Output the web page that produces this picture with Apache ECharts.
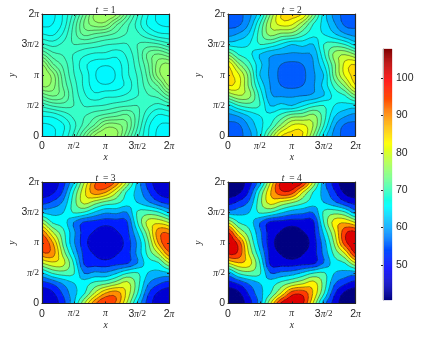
<!DOCTYPE html>
<html><head><meta charset="utf-8">
<style>html,body{margin:0;padding:0;background:#fff}#c{width:423px;height:349px}</style>
<script src="https://cdn.jsdelivr.net/npm/echarts@6/dist/echarts.min.js"></script>
</head><body><div id="c"></div>
<script>
// Values on a 12x12 periodic lattice, step pi/6; first row is y=0, first column x=0.
const t1Values=[
[65.3,65.8,67.3,69.7,73,76.3,77,76.3,73,69.7,67.3,65.8],
[65.8,66.1,67,69,71,73,75.5,75.5,74,70.7,67.5,66.1],
[67.3,67.5,68.5,69.7,70.4,71.3,72,72.5,73,71,68.5,67],
[69.7,70.7,71,70.5,69.3,69.3,69.5,70,70.3,70.5,69.7,69],
[73,74,73,70.3,68.5,67.5,68,68,68.5,69.3,70.4,71],
[76.3,75.5,72.5,70,68,66.6,66.2,66.6,67.5,69.3,71.3,73],
[77,75.5,72,69.5,68,66.2,65.3,66.2,68,69.5,72,75.5],
[76.3,73,71.3,69.3,67.5,66.6,66.2,66.6,68,70,72.5,75.5],
[73,71,70.4,69.3,68.5,68,68,67.5,68.5,70.3,73,74],
[69.7,69,69.7,70.5,70.3,70,69.5,69.3,69.3,70.5,71,70.7],
[67.3,67,68.5,71,73,72.5,72,71.3,70.4,69.7,68.5,67.5],
[65.8,66.1,67.5,70.7,74,75.5,75.5,73,71,69,67,66.1]];
const t2Values=[
[55.5,57,60,66,76,85,86,85,76,66,60,57],
[57,57.4,61.5,66,70,77,82.5,83,79,70,61.5,57.4],
[60,61.5,64.5,67,68,71,74.5,75,77,71.5,64.5,61.5],
[66,70,71.5,70,63.8,65,64,66.5,69,70,67,66],
[76,79,77,69,61.5,60.5,60.5,60.8,61.5,63.8,68,70],
[85,83,75,66.5,60.8,57.9,57,57.9,60.5,65,71,77],
[86,82.5,74.5,64,60.5,57,55,57,60.5,64,74.5,82.5],
[85,77,71,65,60.5,57.9,57,57.9,60.8,66.5,75,83],
[76,70,68,63.8,61.5,60.8,60.5,60.5,61.5,69,77,79],
[66,66,67,70,69,66.5,64,65,63.8,70,71.5,70],
[60,61.5,64.5,71.5,77,75,74.5,71,68,67,64.5,61.5],
[57,57.4,61.5,70,79,83,82.5,77,70,66,61.5,57.4]];
const t3Values=[
[46,48,54,65,80,94,100,94,80,65,54,48],
[48,50,56.7,64,70,81,90.5,93,84,71,56.7,50],
[54,56.7,61.5,65.5,68,72,74,78,82,73,61.5,56.7],
[65,71,73,71,60.5,62,61.5,65,70,71,65.5,64],
[80,84,82,70,55,53.5,53,54,55,60.5,68,70],
[94,93,78,65,54,50.3,47.5,50.3,53.5,62,72,81],
[100,90.5,74,61.5,53,47.5,46,47.5,53,61.5,74,90.5],
[94,81,72,62,53.5,50.3,47.5,50.3,54,65,78,93],
[80,70,68,60.5,55,54,53,53.5,55,70,82,84],
[65,64,65.5,71,70,65,61.5,62,60.5,71,73,71],
[54,56.7,61.5,73,82,78,74,72,68,65.5,61.5,56.7],
[48,50,56.7,71,84,93,90.5,81,70,64,56.7,50]];
const t4Values=[
[41,43,50.5,62,83,103,107,103,83,62,50.5,43],
[43,45.5,54,63,71,84,99,100,89,72,54,45.5],
[50.5,54,60,65,68,73,78,82,86,75,60,54],
[62,72,75,72,59,60.5,62,66,71,72,65,63],
[83,89,86,71,51.3,50,49.5,50.5,51.3,59,68,71],
[103,100,82,66,50.5,46.2,43.5,46.2,50,60.5,73,84],
[107,99,78,62,49.5,43.5,41,43.5,49.5,62,78,99],
[103,84,73,60.5,50,46.2,43.5,46.2,50.5,66,82,100],
[83,71,68,59,51.3,50.5,49.5,50,51.3,71,86,89],
[62,63,65,72,71,66,62,60.5,59,72,75,72],
[50.5,54,60,75,86,82,78,73,68,65,60,54],
[43,45.5,54,72,89,100,99,84,71,63,54,45.5]];
const t1Levels=[65.3,66.1,67.2,68.3,69.4,70.5,71.6,72.7,73.8,74.9,76];
const t2Levels=[55,58,61,64,67,70,73,76,79,82,85];
const t3Levels=[46,50.9,55.8,60.7,65.6,70.5,75.4,80.3,85.2,90.1,95];
const t4Levels=[40.6,46.7,52.8,58.9,65,71.1,77.2,83.3,89.4,95.5,101.6];
const panelTitles=['1','2','3','4'];
const axisTickLabels=['0','π/2','π','3π/2','2π'];
const colorbarTicks=[50,60,70,80,90,100];
const colorMin=40.6,colorMax=107.8;
const jetStops=[[0,[0,0,128]],[0.125,[0,0,255]],[0.375,[0,255,255]],[0.625,[255,255,0]],[0.875,[255,0,0]],[1,[128,0,0]]];

function jet(v){
  const t=Math.max(0,Math.min(1,(v-colorMin)/(colorMax-colorMin)));
  for(let i=1;i<jetStops.length;i++){
    if(t<=jetStops[i][0]){
      const a=jetStops[i-1],b=jetStops[i],f=(t-a[0])/(b[0]-a[0]);
      return 'rgb('+a[1].map((c,k)=>Math.round(c+(b[1][k]-c)*f)).join(',')+')';
    }
  }
  return 'rgb(128,0,0)';
}
const N=12,S=3;
function cr(a,b,c,d,t){return 0.5*(2*b+(c-a)*t+(2*a-5*b+4*c-d)*t*t+(3*b-a-3*c+d)*t*t*t);}
function lattice(vals){
  const at=(i,j)=>vals[((j%N)+N)%N][((i%N)+N)%N];
  const out=[];
  for(let b=0;b<=N*S;b++){
    const row=[],j=Math.floor(b/S),fy=b/S-j;
    for(let a=0;a<=N*S;a++){
      const i=Math.floor(a/S),fx=a/S-i,c=[];
      for(let m=-1;m<=2;m++)c.push(cr(at(i-1,j+m),at(i,j+m),at(i+1,j+m),at(i+2,j+m),fx));
      row.push(cr(c[0],c[1],c[2],c[3],fy));
    }
    out.push(row);
  }
  return out;
}
function clip(poly,L,keepAbove){
  const out=[];
  for(let i=0;i<poly.length;i++){
    const p=poly[i],q=poly[(i+1)%poly.length];
    const pin=keepAbove?p[2]>=L:p[2]<=L,qin=keepAbove?q[2]>=L:q[2]<=L;
    if(pin)out.push(p);
    if(pin!==qin){const f=(L-p[2])/(q[2]-p[2]);out.push([p[0]+(q[0]-p[0])*f,p[1]+(q[1]-p[1])*f,L]);}
  }
  return out;
}
function subCells(lat,i,j,api){
  const cells=[];
  for(let b=0;b<S;b++)for(let a=0;a<S;a++){
    const A=i*S+a,B=j*S+b,pt=(x,y,v)=>{const c=api.coord([x/S,y/S]);return [c[0],c[1],v];};
    const v00=lat[B][A],v10=lat[B][A+1],v01=lat[B+1][A],v11=lat[B+1][A+1],vc=(v00+v10+v01+v11)/4;
    const p00=pt(A,B,v00),p10=pt(A+1,B,v10),p11=pt(A+1,B+1,v11),p01=pt(A,B+1,v01),pc=pt(A+.5,B+.5,vc);
    cells.push({quad:[p00,p10,p11,p01],tris:[[p00,p10,pc],[p10,p11,pc],[p11,p01,pc],[p01,p00,pc]]});
  }
  return cells;
}
function bandOf(v,levels){let k=0;while(k<levels.length-1&&v>=levels[k+1])k++;return k;}
function fillRenderer(lat,levels){
  return function(params,api){
    const children=[],i=api.value(0),j=api.value(1);
    subCells(lat,i,j,api).forEach(cell=>{
      const bands=cell.quad.map(p=>bandOf(p[2],levels));
      if(bands.every(x=>x===bands[0])){
        const c=jet(levels[bands[0]]);
        children.push({type:'polygon',shape:{points:cell.quad.map(p=>[p[0],p[1]])},style:{fill:c,stroke:c,lineWidth:1.2}});
        return;
      }
      cell.tris.forEach(tri=>{
        levels.forEach((L,k)=>{
          let poly=tri;
          if(k>0)poly=clip(poly,L,true);
          if(poly.length&&k<levels.length-1)poly=clip(poly,levels[k+1],false);
          if(poly.length>=3){
            const c=jet(L);
            children.push({type:'polygon',shape:{points:poly.map(p=>[p[0],p[1]])},style:{fill:c,stroke:c,lineWidth:0.9}});
          }
        });
      });
    });
    return {type:'group',children};
  };
}
function lineRenderer(lat,levels){
  return function(params,api){
    const children=[],i=api.value(0),j=api.value(1);
    subCells(lat,i,j,api).forEach(cell=>cell.tris.forEach(tri=>{
      levels.slice(1).forEach(L=>{
        const pts=[];
        for(let e=0;e<3;e++){
          const p=tri[e],q=tri[(e+1)%3];
          if((p[2]<L)!==(q[2]<L)){const f=(L-p[2])/(q[2]-p[2]);pts.push([p[0]+(q[0]-p[0])*f,p[1]+(q[1]-p[1])*f]);}
        }
        if(pts.length===2)children.push({type:'line',shape:{x1:pts[0][0],y1:pts[0][1],x2:pts[1][0],y2:pts[1][1]},style:{stroke:'rgba(20,20,20,0.62)',lineWidth:0.7,fill:null}});
      });
    }));
    return {type:'group',children};
  };
}
const fieldValues=[t1Values,t2Values,t3Values,t4Values];
const fieldLevels=[t1Levels,t2Levels,t3Levels,t4Levels];
const gridBoxes=[[42,14,127,122],[228,14,127.5,122],[42,182,127,121.5],[228,182,127.5,121.5]];
const textColor='#262626';
const tickRich={n:{fontFamily:'Liberation Sans',fontSize:10.5,color:textColor},p:{fontFamily:'Liberation Serif',fontStyle:'italic',fontSize:9.5,color:textColor},m:{fontFamily:'Liberation Serif',fontSize:9,color:textColor}};
function tickFmt(v){
  const s=axisTickLabels[v/3];
  if(s===undefined)return '';
  const m=s.match(/^(\d?)(π?)(\/2)?$/);
  return (m[1]?'{n|'+m[1]+'}':'')+(m[2]?'{p|π}':'')+(m[3]?'{m|/2}':'');
}
const grids=[],xAxes=[],yAxes=[],series=[],titles=[];
gridBoxes.forEach((b,k)=>{
  grids.push({left:b[0],top:b[1],width:b[2],height:b[3]});
  const base={type:'value',min:0,max:12,interval:3,gridIndex:k,z:10,splitLine:{show:false},
    axisLine:{show:true,onZero:false,lineStyle:{color:textColor,width:1.2}},
    axisTick:{show:true,inside:true,length:2,lineStyle:{color:textColor,width:1}}};
  const ax=xAxes.length;
  xAxes.push(Object.assign({},base,{position:'bottom',name:'x',nameLocation:'middle',nameGap:15,
    nameTextStyle:{fontFamily:'Liberation Serif',fontStyle:'italic',fontSize:9.5,color:textColor},
    axisLabel:{formatter:tickFmt,rich:tickRich,margin:5,showMinLabel:true,showMaxLabel:true}}));
  xAxes.push(Object.assign({},base,{position:'top',axisLabel:{show:false}}));
  yAxes.push(Object.assign({},base,{position:'left',name:'y',nameLocation:'middle',nameGap:22,nameRotate:90,
    nameTextStyle:{fontFamily:'Liberation Serif',fontStyle:'italic',fontSize:9.5,color:textColor},
    axisLabel:{formatter:tickFmt,rich:tickRich,margin:3,showMinLabel:true,showMaxLabel:true}}));
  yAxes.push(Object.assign({},base,{position:'right',axisLabel:{show:false}}));
  const cells=[];
  for(let j=0;j<N;j++)for(let i=0;i<N;i++)cells.push([i,j,fieldValues[k][j][i]]);
  const lat=lattice(fieldValues[k]);
  const common={type:'custom',xAxisIndex:ax,yAxisIndex:ax,data:cells,clip:true,silent:true,animation:false,encode:{x:0,y:1}};
  series.push(Object.assign({},common,{z:2,renderItem:fillRenderer(lat,fieldLevels[k])}));
  series.push(Object.assign({},common,{z:3,renderItem:lineRenderer(lat,fieldLevels[k])}));
  titles.push({text:'{i|t} {e|= '+panelTitles[k]+'}',left:b[0]+b[2]/2,top:b[1]-13,padding:0,textAlign:'center',
    textStyle:{fontWeight:'normal',rich:{i:{fontFamily:'Liberation Serif',fontStyle:'italic',fontWeight:'normal',fontSize:9.5,color:textColor},e:{fontFamily:'Liberation Serif',fontWeight:'normal',fontSize:9.5,color:textColor}}}});
});
// colour bar
const cbIdx=xAxes.length;
grids.push({left:383,top:49,width:9,height:251});
xAxes.push({type:'value',min:0,max:1,gridIndex:4,show:false});
yAxes.push({type:'value',min:colorMin,max:colorMax,gridIndex:4,position:'right',z:10,splitLine:{show:false},
  axisLine:{show:true,lineStyle:{color:'#b0b0b0',width:1}},
  axisTick:{show:true,inside:true,length:2,customValues:colorbarTicks,lineStyle:{color:textColor}},
  axisLabel:{customValues:colorbarTicks,fontFamily:'Liberation Sans',fontSize:10.5,color:textColor,margin:4}});
const cbSteps=[];
for(let q=0;q<256;q++)cbSteps.push([colorMin+(colorMax-colorMin)*q/256]);
const cbH=(colorMax-colorMin)/256;
series.push({type:'custom',xAxisIndex:cbIdx,yAxisIndex:cbIdx,data:cbSteps,silent:true,animation:false,encode:{y:0},
  renderItem(params,api){
    const v=api.value(0),a=api.coord([0,v]),b=api.coord([1,v+cbH]);
    const c=jet(v+cbH/2);
    return {type:'rect',shape:{x:a[0],y:b[1],width:b[0]-a[0],height:a[1]-b[1]},style:{fill:c,stroke:c,lineWidth:0.3}};
  }});
const chart=echarts.init(document.getElementById('c'),null,{renderer:'canvas'});
chart.setOption({animation:false,backgroundColor:'#fff',title:titles,grid:grids,xAxis:xAxes,yAxis:yAxes,series:series,tooltip:{show:false}});
</script></body></html>
